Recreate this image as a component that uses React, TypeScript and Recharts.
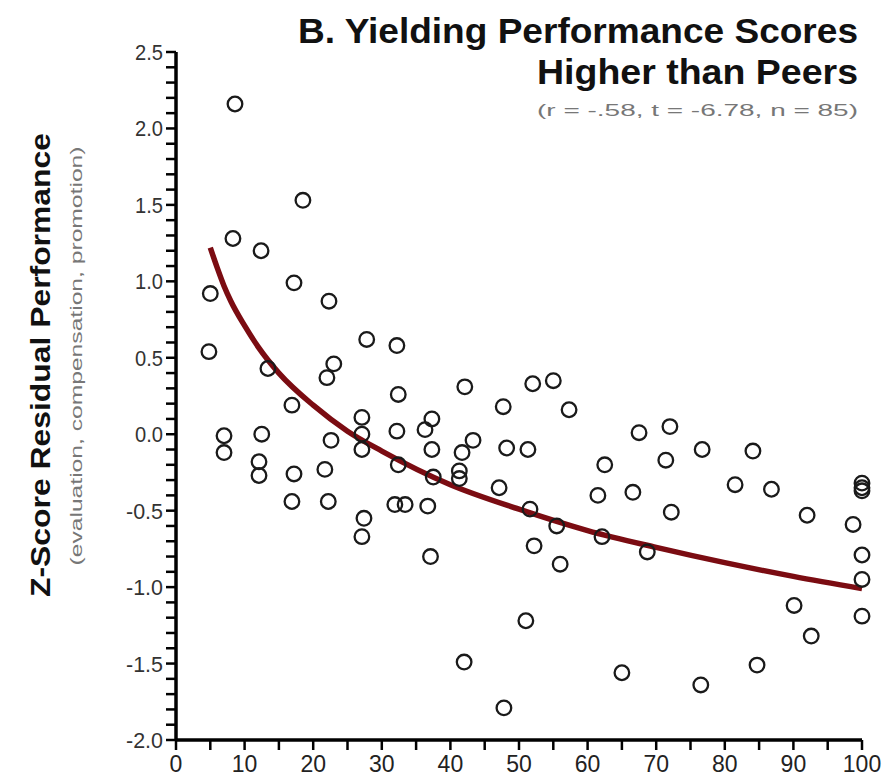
import React from 'react';
import { ScatterChart, Scatter, XAxis, YAxis, Customized } from 'recharts';

// yielding percentile (x) and z-score residual performance (y)
const yieldPct = [
  8.6, 18.5, 8.3, 12.4, 5.0, 17.2, 22.3, 4.8, 27.8, 32.2,
  13.4, 23.0, 22.0, 42.1, 52.0, 55.0, 32.4, 16.9, 47.7, 57.3,
  27.1, 37.3, 72.0, 67.5, 32.2, 12.5, 7.0, 27.1, 36.3, 43.3,
  22.6, 7.0, 27.1, 37.3, 41.7, 48.2, 51.3, 76.7, 84.1, 12.1,
  32.4, 62.5, 71.4, 12.1, 17.2, 21.7, 41.3, 37.5, 41.3, 81.5,
  86.8, 47.1, 100, 100, 61.5, 66.6, 16.9, 22.2, 31.9, 33.4,
  36.7, 51.6, 72.2, 92.0, 98.7, 27.4, 27.1, 55.5, 62.1, 52.2,
  68.7, 37.1, 56.0, 100, 100, 90.1, 100, 51.0, 92.6, 42.0,
  84.7, 65.0, 76.5, 47.8, 100,
];
const zResid = [
  2.16, 1.53, 1.28, 1.20, 0.92, 0.99, 0.87, 0.54, 0.62, 0.58,
  0.43, 0.46, 0.37, 0.31, 0.33, 0.35, 0.26, 0.19, 0.18, 0.16,
  0.11, 0.10, 0.05, 0.01, 0.02, 0.00, -0.01, 0.00, 0.03, -0.04,
  -0.04, -0.12, -0.10, -0.10, -0.12, -0.09, -0.10, -0.10, -0.11, -0.18,
  -0.20, -0.20, -0.17, -0.27, -0.26, -0.23, -0.24, -0.28, -0.29, -0.33,
  -0.36, -0.35, -0.32, -0.35, -0.40, -0.38, -0.44, -0.44, -0.46, -0.46,
  -0.47, -0.49, -0.51, -0.53, -0.59, -0.55, -0.67, -0.60, -0.67, -0.73,
  -0.77, -0.80, -0.85, -0.79, -0.95, -1.12, -1.19, -1.22, -1.32, -1.49,
  -1.51, -1.56, -1.64, -1.79, -0.37,
];

// fitted log curve
const fitX = [5, 6, 7, 8, 10, 12, 15, 20, 25, 30, 40, 50, 60, 70, 80, 90, 100];
const fitY = [1.22, 1.09, 0.97, 0.87, 0.71, 0.57, 0.40, 0.19, 0.02, -0.11, -0.33, -0.49, -0.63, -0.74, -0.84, -0.93, -1.01];

const xTicks = Array.from({ length: 21 }, (_, i) => i * 5);
const yTicks = Array.from({ length: 46 }, (_, i) => Math.round((-2 + i * 0.1) * 10) / 10);

const points = yieldPct.map((x, i) => ({ x, y: zResid[i] }));
const fitLine = fitX.map((x, i) => ({ x, y: fitY[i] }));

const FONT = '"Liberation Sans", Arial, sans-serif';
const DARK_RED = '#7b0c12';

const OpenCircle = (props: any) => (
  <circle cx={props.cx} cy={props.cy} r={7.3} fill="none" stroke="#1a1a1a" strokeWidth={2.3} />
);

const YTick = (props: any) => {
  const v = props.payload.value;
  if (Math.abs(v * 2 - Math.round(v * 2)) > 1e-6) return null;
  const label = Math.abs(v) < 1e-9 ? '0.0' : v.toFixed(1);
  return (
    <text x={props.x} y={props.y} dy={8} textAnchor="end" fontSize={22} fill="#333" fontFamily={FONT}
      textLength={label.length > 3 ? 37 : 28} lengthAdjust="spacingAndGlyphs">
      {label}
    </text>
  );
};

const XTick = (props: any) => {
  const v = props.payload.value;
  if (v % 10 !== 0) return null;
  return (
    <text x={props.x} y={props.y} dy={20} textAnchor="middle" fontSize={23} fill="#222" fontFamily={FONT}>
      {v}
    </text>
  );
};

const Titles = () => (
  <g fontFamily={FONT}>
    <text x={858} y={43} textAnchor="end" fontSize={35} fontWeight="bold" fill="#111" textLength={560} lengthAdjust="spacingAndGlyphs">
      B. Yielding Performance Scores
    </text>
    <text x={858} y={84} textAnchor="end" fontSize={35} fontWeight="bold" fill="#111" textLength={321} lengthAdjust="spacingAndGlyphs">
      Higher than Peers
    </text>
    <text x={858} y={116} textAnchor="end" fontSize={17} fill="#777" textLength={321} lengthAdjust="spacingAndGlyphs">
      (r = -.58, t = -6.78, n = 85)
    </text>
    <text x={0} y={0} transform="translate(50,365) rotate(-90)" textAnchor="middle" fontSize={28} fontWeight="bold" fill="#111" textLength={464} lengthAdjust="spacingAndGlyphs">
      Z-Score Residual Performance
    </text>
    <text x={0} y={0} transform="translate(82,356) rotate(-90)" textAnchor="middle" fontSize={17} fill="#777" textLength={419} lengthAdjust="spacingAndGlyphs">
      (evaluation, compensation, promotion)
    </text>
  </g>
);

export default function App() {
  return (
    <div style={{ position: 'absolute', left: 0, top: 0, width: 892, height: 784, background: '#fff' }}>
      <ScatterChart width={892} height={784} margin={{ top: 52, right: 30, bottom: 4, left: 0 }}>
        <XAxis
          type="number"
          dataKey="x"
          domain={[0, 100]}
          ticks={xTicks}
          interval={0}
          height={40}
          axisLine={{ stroke: '#000', strokeWidth: 3.5 }}
          tickLine={{ stroke: '#000', strokeWidth: 2.5 }}
          tickSize={10}
          tickMargin={2}
          tick={<XTick />}
        />
        <YAxis
          type="number"
          dataKey="y"
          domain={[-2, 2.5]}
          ticks={yTicks}
          interval={0}
          width={176}
          axisLine={{ stroke: '#000', strokeWidth: 3.5 }}
          tickLine={{ stroke: '#000', strokeWidth: 2.5 }}
          tickSize={10}
          tickMargin={3}
          tick={<YTick />}
        />
        <Scatter
          data={fitLine}
          line={{ stroke: DARK_RED, strokeWidth: 5.5 }}
          lineJointType="monotoneX"
          shape={() => null}
          isAnimationActive={false}
        />
        <Scatter data={points} shape={<OpenCircle />} isAnimationActive={false} />
        <Customized component={Titles} />
      </ScatterChart>
    </div>
  );
}
